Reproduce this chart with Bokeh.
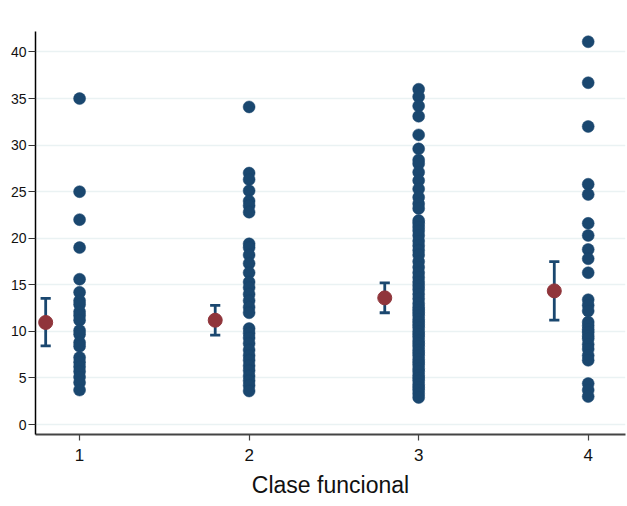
from bokeh.plotting import figure
from bokeh.models import Range1d, FixedTicker, ColumnDataSource
from bokeh.embed import file_html
from bokeh.resources import INLINE

# ---- data ----
clase1 = [35.0, 25.0, 22.0, 19.0, 15.6, 14.2, 13.3, 12.9, 12.1, 11.7, 11.2, 10.1,
          9.7, 8.8, 8.4, 7.2, 6.7, 6.2, 5.7, 5.1, 4.5, 3.7]
clase2 = [34.1, 27.0, 26.3, 25.1, 24.0, 23.5, 22.8, 19.4, 19.0, 18.2, 17.3, 16.3,
          15.3, 14.7, 14.0, 13.3, 12.6, 12.0, 10.3, 9.8, 9.3, 8.7, 8.0, 7.4, 6.9,
          6.3, 5.8, 5.2, 4.7, 4.2, 3.6]
clase3 = [36.0, 35.2, 34.2, 33.1, 31.1, 29.6, 28.4, 28.0, 27.1, 26.2, 25.3, 24.4,
          23.7, 23.2, 21.9, 21.6, 21.2, 20.8, 20.3, 19.7, 19.2, 18.7, 18.2, 17.5,
          16.9, 16.3, 15.8, 15.3, 14.9, 14.5, 14.0, 13.5, 13.0, 12.6, 12.3, 12.0,
          11.7, 11.3, 11.0, 10.7, 10.4, 10.0, 9.7, 9.4, 9.0, 8.7, 8.4, 8.0, 7.7,
          7.4, 7.0, 6.7, 6.4, 6.0, 5.7, 5.3, 5.0, 4.7, 4.3, 4.0, 3.7, 3.3, 2.9]
clase4 = [41.1, 36.7, 32.0, 25.8, 24.7, 21.6, 20.3, 18.8, 17.8, 16.3, 13.4, 12.8,
          12.2, 11.0, 10.6, 10.2, 9.9, 9.5, 9.2, 8.6, 8.1, 7.4, 6.9, 4.4, 3.7, 3.0]

clases = [1, 2, 3, 4]
medias = [10.96, 11.2, 13.6, 14.35]
ic_sup = [13.55, 12.8, 15.2, 17.5]
ic_inf = [8.45, 9.6, 12.0, 11.2]
y_ticks = [0, 5, 10, 15, 20, 25, 30, 35, 40]
x_label = "Clase funcional"

BLUE = "#1a476f"
RED = "#90353b"
OFFSET = 0.2
CAP = 0.03

# ---- figure ----
p = figure(width=627, height=506, output_backend="svg", toolbar_location=None,
           x_range=Range1d(0.74, 4.22), y_range=Range1d(-1.07, 42.2),
           min_border_left=35, min_border_right=2, min_border_top=31,
           min_border_bottom=72)
p.outline_line_color = None
p.background_fill_color = "white"
p.border_fill_color = "white"

# grid
p.xgrid.grid_line_color = None
p.ygrid.grid_line_color = "#eaf2f3"
p.ygrid.grid_line_width = 1.5
p.ygrid.ticker = FixedTicker(ticks=y_ticks)

# points
xs, ys = [], []
for c, vals in zip(clases, [clase1, clase2, clase3, clase4]):
    xs += [c] * len(vals)
    ys += vals
p.scatter(xs, ys, size=12, fill_color=BLUE, line_color=BLUE, line_width=0.5)

# error bars
mx = [c - OFFSET for c in clases]
src = ColumnDataSource(dict(x=mx, m=medias, lo=ic_inf, hi=ic_sup,
                            x0=[x - CAP for x in mx], x1=[x + CAP for x in mx]))
p.segment(x0="x", y0="lo", x1="x", y1="hi", source=src, line_color=BLUE, line_width=2.8)
p.segment(x0="x0", y0="lo", x1="x1", y1="lo", source=src, line_color=BLUE, line_width=2.8)
p.segment(x0="x0", y0="hi", x1="x1", y1="hi", source=src, line_color=BLUE, line_width=2.8)
p.scatter(x="x", y="m", source=src, size=14, fill_color=RED, line_color=RED)

# axes
p.yaxis.ticker = FixedTicker(ticks=y_ticks)
p.yaxis.minor_tick_line_color = None
p.yaxis.major_tick_out = 7
p.yaxis.major_tick_in = 0
p.yaxis.major_label_standoff = 2
p.yaxis.major_label_text_font = "Liberation Sans"
p.yaxis.major_label_text_font_size = "14px"
p.yaxis.major_label_text_color = "#111111"
p.yaxis.axis_line_color = "black"
p.yaxis.axis_line_width = 1.5
p.yaxis.major_tick_line_color = "#333333"
p.yaxis.major_tick_line_width = 1.2

p.xaxis.ticker = FixedTicker(ticks=clases)
p.xaxis.minor_tick_line_color = None
p.xaxis.major_tick_out = 6
p.xaxis.major_tick_in = 0
p.xaxis.major_label_standoff = 8
p.xaxis.major_label_text_font = "Liberation Sans"
p.xaxis.major_label_text_font_size = "17px"
p.xaxis.major_label_text_color = "#111111"
p.xaxis.axis_line_color = "#444444"
p.xaxis.axis_line_width = 2
p.xaxis.major_tick_line_color = "#444444"
p.xaxis.major_tick_line_width = 1.2
p.xaxis.axis_label = x_label
p.xaxis.axis_label_text_font = "Liberation Sans"
p.xaxis.axis_label_text_font_size = "23px"
p.xaxis.axis_label_text_font_style = "normal"
p.xaxis.axis_label_text_color = "#111111"
p.xaxis.axis_label_standoff = 8

open("out.html", "w").write(file_html(p, INLINE))
